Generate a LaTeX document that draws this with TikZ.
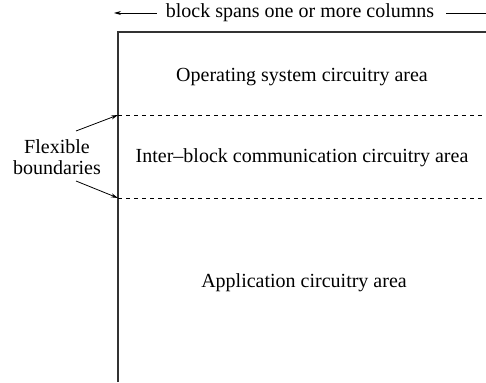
\documentclass[tikz,border=0pt]{standalone}
\usepackage{fontspec}
\setmainfont{Liberation Serif}
\usetikzlibrary{arrows.meta}
\begin{document}
\begin{tikzpicture}[x=1pt,y=-1pt,
  lbl/.style={font=\fontsize{20}{21}\selectfont, inner sep=0pt, anchor=base},
  boxline/.style={line width=1.1pt, draw=black!80},
  flexline/.style={line width=0.8pt, dash pattern=on 4pt off 4pt},
  ptr/.style={line width=0.8pt, -{Stealth[length=7pt,width=4pt]}}]
\useasboundingbox (0,0) rectangle (486,382);
% box outline
\coordinate (tl) at (118,32);
\coordinate (tr) at (486,32);
\coordinate (bl) at (118,382);
\draw[boxline] (bl) -- (tl) -- (tr);
% flexible boundaries
\coordinate (d1l) at (118,115);
\coordinate (d1r) at (484,115);
\coordinate (d2l) at (118,198);
\coordinate (d2r) at (484,198);
\draw[flexline] (d1l) -- (d1r);
\draw[flexline] (d2l) -- (d2r);
% top label
\node[lbl] (span) at (300,18) {block spans one or more columns};
\coordinate (sl) at (114,13);
\coordinate (sr) at (486,13);
\draw[ptr] (span.west |- sl) ++(-9,0) coordinate (sla) (sla) -- (sl);
\draw[line width=0.8pt] (span.east |- sr) ++(12,0) coordinate (sra) (sra) -- (sr);
% area labels
\node[lbl] (os) at (302,82) {Operating system circuitry area};
\node[lbl] (ib) at (302,162) {Inter--block communication circuitry area};
\node[lbl] (app) at (304,287) {Application circuitry area};
% flexible label
\node[font=\fontsize{20}{21}\selectfont, align=center, inner sep=0pt] (flex) at (57,157) {Flexible\\boundaries};
\coordinate (a1) at (76,131);
\coordinate (a2) at (76,181);
\draw[ptr] (a1) -- (d1l);
\draw[ptr] (a2) -- (d2l);
\end{tikzpicture}
\end{document}
